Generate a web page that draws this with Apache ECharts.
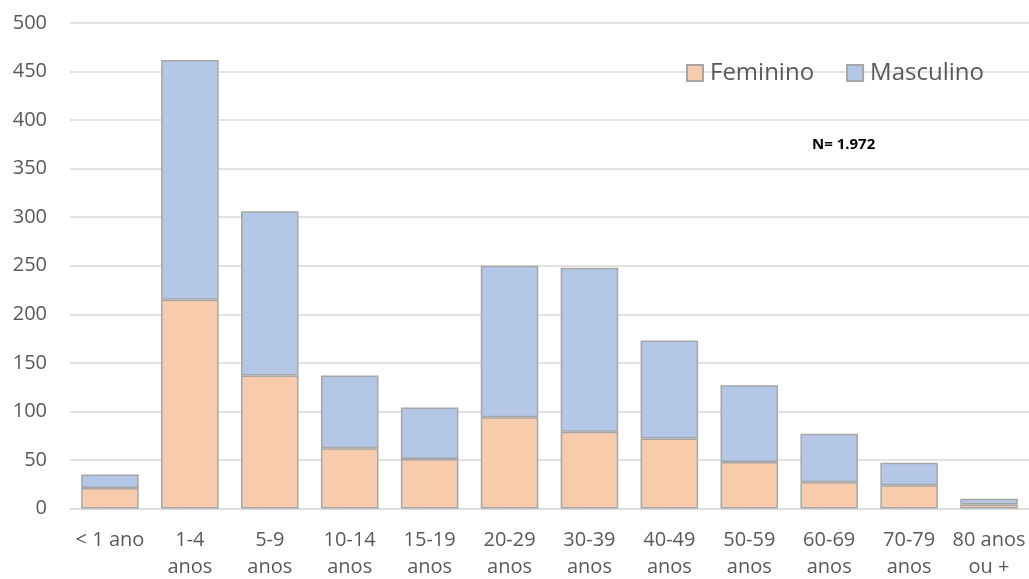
<!DOCTYPE html>
<html>
<head>
<meta charset="utf-8">
<script src="https://cdn.jsdelivr.net/npm/echarts@6/dist/echarts.min.js"></script>
<style>
  html, body { margin: 0; padding: 0; background: #fff; }
  #chart { width: 1029px; height: 579px; }
</style>
</head>
<body>
<div id="chart"></div>
<script>
var categories = ['< 1 ano', '1-4\nanos', '5-9\nanos', '10-14\nanos', '15-19\nanos', '20-29\nanos',
  '30-39\nanos', '40-49\nanos', '50-59\nanos', '60-69\nanos', '70-79\nanos', '80 anos\nou +'];
var feminino = [21, 215, 137, 62, 51, 94, 79, 72, 48, 27, 24, 4];
var masculino = [14, 247, 169, 75, 53, 156, 169, 101, 79, 50, 23, 6];
var totalN = 'N= 1.972';

var chartDom = document.getElementById('chart');
var myChart = echarts.init(chartDom);
var option;

var txt = '#595959';
var font = 'Open Sans';

option = {
  animation: false,
  textStyle: { fontFamily: font },
  grid: { left: 70, right: 0, top: 23, bottom: 70.5, outerBoundsMode: 'none', containLabel: false },
  legend: {
    data: ['Feminino', 'Masculino'],
    left: 686,
    top: 61,
    padding: 0,
    itemWidth: 16,
    itemHeight: 16,
    itemGap: 32,
    icon: 'rect',
    textStyle: { color: txt, fontSize: 24, fontFamily: font, padding: [0, 0, 0, 2] }
  },
  graphic: [{
    type: 'text',
    left: 812,
    top: 137,
    style: { text: totalN, font: 'bold 15px "Open Sans"', fill: '#000' }
  }],
  xAxis: {
    type: 'category',
    data: categories,
    axisLine: { lineStyle: { color: '#D9D9D9', width: 1.5 } },
    axisTick: { show: false },
    axisLabel: { color: txt, fontSize: 20, lineHeight: 27, margin: 18, interval: 0 }
  },
  yAxis: {
    type: 'value',
    min: 0,
    max: 500,
    interval: 50,
    axisLine: { show: false },
    axisTick: { show: false },
    splitLine: { lineStyle: { color: '#D9D9D9', width: 1.5 } },
    axisLabel: { color: txt, fontSize: 20, margin: 23 }
  },
  series: [
    {
      name: 'Feminino',
      type: 'bar',
      stack: 'total',
      data: feminino,
      barCategoryGap: '28%',
      itemStyle: { color: '#F8CBAD', borderColor: '#A6A6A6', borderWidth: 1.5 }
    },
    {
      name: 'Masculino',
      type: 'bar',
      stack: 'total',
      data: masculino,
      barCategoryGap: '28%',
      itemStyle: { color: '#B4C7E7', borderColor: '#A6A6A6', borderWidth: 1.5 }
    }
  ]
};

option && myChart.setOption(option);
</script>
</body>
</html>
